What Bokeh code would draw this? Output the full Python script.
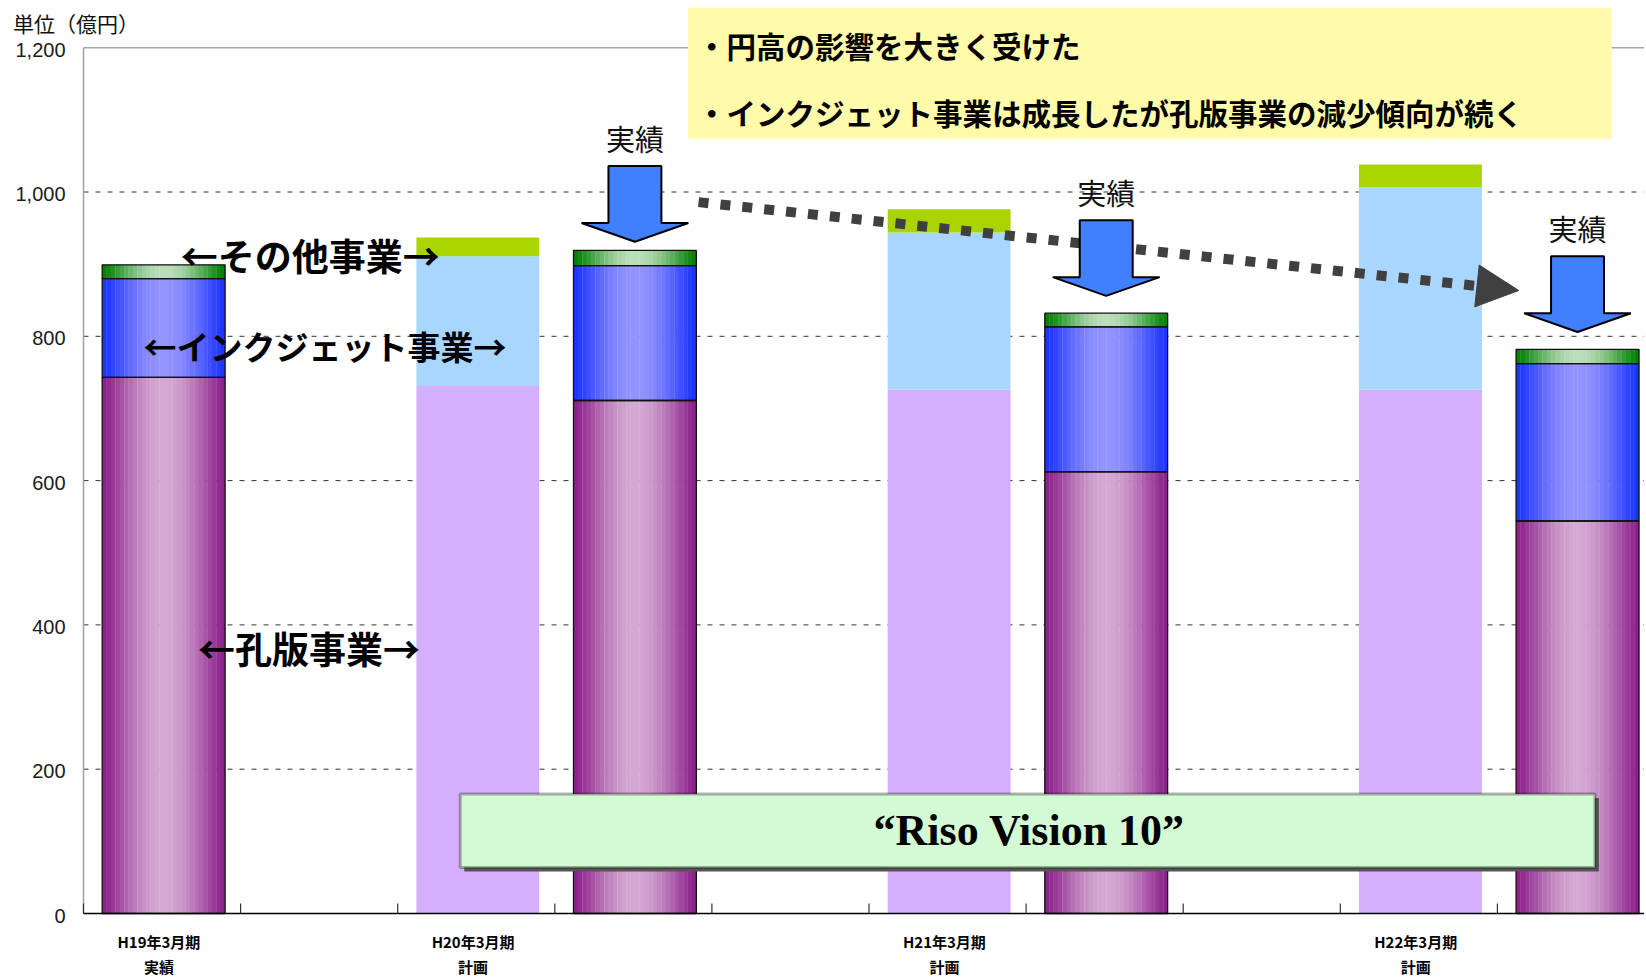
import math
from bokeh.plotting import figure
from bokeh.models import Range1d, Label, BoxAnnotation, Arrow, NormalHead, ColumnDataSource
from bokeh.embed import file_html
from bokeh.resources import INLINE

# ---------------- data ----------------
periods = ["H19年3月期", "H20年3月期", "H21年3月期", "H22年3月期"]
period_kind = ["実績", "計画", "計画", "計画"]
bar_names = ["H19年3月期 実績", "H20年3月期 計画", "H20年3月期 実績",
             "H21年3月期 計画", "H21年3月期 実績", "H22年3月期 計画", "H22年3月期 実績"]
bar_kind = ["実績", "計画", "実績", "計画", "実績", "計画", "実績"]
stencil = [743, 731, 711, 726, 612, 726, 544]   # 孔版事業
inkjet = [137, 180, 187, 218, 201, 281, 218]    # インクジェット事業
others = [19, 26, 21, 32, 19, 31, 20]           # その他事業
y_ticks = [0, 200, 400, 600, 800, 1000, 1200]

unit_text = "単位（億円）"
seg_labels = ["←その他事業→", "←インクジェット事業→", "←孔版事業→"]
note_lines = ["・円高の影響を大きく受けた", "・インクジェット事業は成長したが孔版事業の減少傾向が続く"]
banner_text = "“Riso Vision 10”"
actual_text = "実績"

# ---------------- layout ----------------
W, H = 1644, 978
X0_PX, Y0_PX = 83.0, 913.0       # page position of data origin
SLOT_PX, UNIT_PX = 157.1, 0.7215  # pixels per slot / per 億円
bar_slot = [0, 2, 3, 5, 6, 8, 9]
period_slot = [0, 2, 5, 8]
n_slots = 10
bar_w = 0.782
bar_off = 0.51
JP = "Noto Sans CJK JP"

def px_x(d):  # pixel distance -> data x distance
    return d / SLOT_PX

def px_y(d):
    return d / UNIT_PX

x_lo, x_hi = -X0_PX / SLOT_PX, (W - X0_PX) / SLOT_PX
y_lo, y_hi = -(H - Y0_PX) / UNIT_PX, Y0_PX / UNIT_PX

p = figure(width=W, height=H, output_backend="svg", toolbar_location=None,
           x_range=Range1d(x_lo, x_hi), y_range=Range1d(y_lo, y_hi),
           x_axis_type=None, y_axis_type=None,
           min_border_left=0, min_border_right=0, min_border_top=0, min_border_bottom=0)
p.outline_line_color = None
p.background_fill_color = "white"
p.grid.visible = False

# ---------------- axes & grid (drawn from the tick arrays) ----------------
grid_vals = y_ticks[1:-1]
p.segment(x0=[0] * len(grid_vals), x1=[x_hi] * len(grid_vals), y0=grid_vals, y1=grid_vals,
          line_color="#333333", line_width=1, line_dash="5 7")
p.segment(x0=[0], x1=[x_hi], y0=[y_ticks[-1]], y1=[y_ticks[-1]], line_color="#a8a8a8", line_width=1.5)
p.segment(x0=[0], x1=[0], y0=[y_ticks[0]], y1=[y_ticks[-1]], line_color="#a0a0a0", line_width=1.5)
p.text(x=[-px_x(18)] * len(y_ticks), y=[v - px_y(2) for v in y_ticks],
       text=["{:,}".format(v) for v in y_ticks],
       text_font={"value": "Liberation Sans"}, text_font_size="20px", text_color="#1a1a1a",
       text_align="right", text_baseline="middle")

# ---------------- bars ----------------
def hexc(c):
    return "#%02x%02x%02x" % tuple(int(round(v)) for v in c)

def blend(c1, c2, t):
    return hexc([a + (b - a) * t for a, b in zip(c1, c2)])

grad = {
    "stencil": ((139, 31, 139), (212, 168, 210)),
    "inkjet": ((26, 51, 255), (148, 148, 255)),
    "others": ((0, 128, 0), (186, 222, 186)),
}
flat = {"stencil": "#d6aefe", "inkjet": "#a8d6ff", "others": "#aad400"}

N = 28
g = dict(left=[], right=[], bottom=[], top=[], color=[])
o = dict(left=[], right=[], bottom=[], top=[])
f = dict(left=[], right=[], bottom=[], top=[], color=[])
for i, (s, ik, ot) in enumerate(zip(stencil, inkjet, others)):
    xc = bar_slot[i] + bar_off
    x0 = xc - bar_w / 2
    segs = [("stencil", 0, s), ("inkjet", s, s + ik), ("others", s + ik, s + ik + ot)]
    for name, b, t in segs:
        if bar_kind[i] == "実績":
            c_edge, c_mid = grad[name]
            for k in range(N):
                u = (k + 0.5) / N
                tt = math.sin(math.pi * u) ** 1.3
                g["left"].append(x0 + k * bar_w / N)
                g["right"].append(x0 + (k + 1) * bar_w / N + 0.002)
                g["bottom"].append(b)
                g["top"].append(t)
                g["color"].append(blend(c_edge, c_mid, tt))
            o["left"].append(x0); o["right"].append(x0 + bar_w)
            o["bottom"].append(b); o["top"].append(t)
        else:
            f["left"].append(x0); f["right"].append(x0 + bar_w)
            f["bottom"].append(b); f["top"].append(t); f["color"].append(flat[name])

p.quad(left="left", right="right", bottom="bottom", top="top", fill_color="color",
       line_color=None, source=ColumnDataSource(f))
p.quad(left="left", right="right", bottom="bottom", top="top", fill_color="color",
       line_color=None, source=ColumnDataSource(g))
p.quad(left="left", right="right", bottom="bottom", top="top", fill_color=None,
       line_color="#111111", line_width=1.3, source=ColumnDataSource(o))

# x axis line and tick marks (category boundaries)
p.segment(x0=[0], x1=[x_hi], y0=[0], y1=[0], line_color="black", line_width=1.5)
bounds = list(range(n_slots))
p.segment(x0=bounds, x1=bounds, y0=[0] * len(bounds), y1=[px_y(10)] * len(bounds),
          line_color="#333333", line_width=1.2)

# x category labels
lab_x = [s + 0.48 for s in period_slot]
p.text(x=lab_x, y=[-px_y(28.0)] * len(lab_x), text=periods,
       text_font={"value": JP}, text_font_style="bold", text_font_size="15px",
       text_align="center", text_baseline="middle", text_color="black")
p.text(x=lab_x, y=[-px_y(52.5)] * len(lab_x), text=period_kind,
       text_font={"value": JP}, text_font_style="bold", text_font_size="15px",
       text_align="center", text_baseline="middle", text_color="black")

# unit label
p.add_layout(Label(x=-px_x(70.4), y=px_y(891), text=unit_text, text_font=JP, text_font_size="21px",
                   text_align="left", text_baseline="middle", text_color="#111111"))

# segment labels
seg_pos = [(1.443, 913, "37px"), (1.537, 787, "33px"), (1.436, 368, "37px")]
for txt, (lx, ly, fs) in zip(seg_labels, seg_pos):
    p.add_layout(Label(x=lx, y=ly, text=txt, text_font=JP, text_font_style="bold",
                       text_font_size=fs, text_align="center", text_baseline="middle",
                       text_color="black"))

# yellow note box
p.add_layout(BoxAnnotation(left=3.849, right=9.728, bottom=1073.7, top=1255.3,
                           fill_color="#fffbaa", fill_alpha=1, line_color=None))
for txt, ly in zip(note_lines, [1204.4, 1111.2]):
    p.add_layout(Label(x=3.905, y=ly, text=txt, text_font=JP, text_font_style="bold",
                       text_font_size="29.5px", text_align="left", text_baseline="middle",
                       text_color="black"))

# banner box
p.add_layout(BoxAnnotation(left=2.398 + px_x(4), right=9.621 + px_x(4),
                           bottom=63.8 - px_y(4), top=165.5 - px_y(4),
                           fill_color="#555555", fill_alpha=1, line_color=None))
p.add_layout(BoxAnnotation(left=2.398, right=9.621, bottom=63.8, top=165.5,
                           fill_color="#d4fad4", fill_alpha=1, line_color="black", line_width=3))
p.add_layout(Label(x=6.02, y=114.6, text=banner_text, text_font="Liberation Serif",
                   text_font_style="bold", text_font_size="44px", text_align="center",
                   text_baseline="middle", text_color="black"))

# dotted trend arrow
p.add_layout(Arrow(end=NormalHead(size=42, fill_color="#404040", line_color="#404040", line_width=1),
                   x_start=3.915, y_start=986, x_end=9.136, y_end=863.5,
                   line_color="#404040", line_width=10, line_dash="10 12"))

# blue "実績" arrows over actual bars (except first)
arrow_bars = [2, 4, 6]
arrow_drop = [12, 0, 0]
hs, hh = 0.1685, 0.34
axs, ays = [], []
for bi, dr in zip(arrow_bars, arrow_drop):
    T = stencil[bi] + inkjet[bi] + others[bi]
    xc = bar_slot[bi] + bar_off
    top, base, tip = T + 129 - dr, T + 50 - dr, T + 24 - dr
    axs.append([xc - hs, xc + hs, xc + hs, xc + hh, xc, xc - hh, xc - hs])
    ays.append([top, top, base, base, tip, base, base])
    p.add_layout(Label(x=xc, y=T + 168 - dr, text=actual_text, text_font=JP,
                       text_font_size="29px", text_align="center", text_baseline="middle",
                       text_color="#111111"))
p.patches(axs, ays, fill_color="#4080ff", line_color="black", line_width=2, level="overlay")

open("out.html", "w").write(file_html(p, INLINE))
